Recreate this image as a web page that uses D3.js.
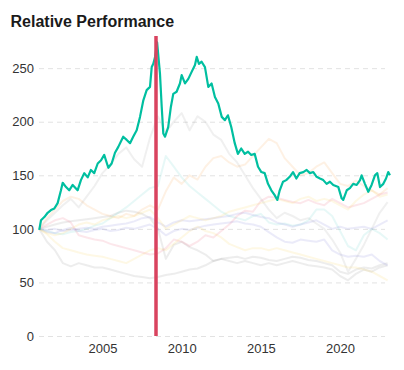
<!DOCTYPE html>
<html>
<head>
<meta charset="utf-8">
<script src="https://cdn.jsdelivr.net/npm/d3@7"></script>
<style>
    body { margin: 0; background: #fff; font-family: "Liberation Sans", Arial, sans-serif; }
</style>
</head>
<body>
<script>
//Data.

//Highlighted series (green), its own dates.
const greenYears = [2001.01, 2001.12, 2001.33, 2001.54, 2001.75, 2001.96, 2002.17, 2002.38, 2002.49, 2002.70, 2002.90,
    2003.12, 2003.43, 2003.64, 2003.85, 2004.07, 2004.27, 2004.48, 2004.70, 2004.91, 2005.11, 2005.37, 2005.58, 2005.79,
    2006.00, 2006.31, 2006.53, 2006.74, 2006.94, 2007.16, 2007.37, 2007.58, 2007.79, 2008.00, 2008.11, 2008.21, 2008.32,
    2008.45, 2008.63, 2008.74, 2008.84, 2008.95, 2009.15, 2009.32, 2009.47, 2009.68, 2009.89, 2010.00, 2010.21, 2010.42,
    2010.63, 2010.84, 2010.95, 2011.09, 2011.26, 2011.47, 2011.68, 2011.89, 2012.10, 2012.31, 2012.53, 2012.73, 2012.92,
    2013.13, 2013.35, 2013.55, 2013.76, 2013.98, 2014.19, 2014.39, 2014.61, 2014.82, 2015.03, 2015.24, 2015.45, 2015.66,
    2015.87, 2016.04, 2016.19, 2016.40, 2016.60, 2016.82, 2017.03, 2017.24, 2017.45, 2017.68, 2017.89, 2018.10, 2018.31,
    2018.52, 2018.73, 2018.94, 2019.15, 2019.36, 2019.57, 2019.89, 2020.10, 2020.20, 2020.42, 2020.62, 2020.83, 2021.05,
    2021.26, 2021.36, 2021.57, 2021.78, 2021.99, 2022.20, 2022.35, 2022.52, 2022.73, 2022.90, 2023.04, 2023.15];
const greenValues = [99, 108, 111, 115, 117.5, 119, 124, 136, 143, 139, 136,
    141, 136, 145.5, 152, 148, 155, 152, 161, 164, 169, 157, 161, 171,
    176.5, 186, 183, 180, 186, 192, 204.5, 220, 229.5, 232.5, 251, 254, 260.5,
    274, 245, 214, 189, 186, 195, 214, 226, 228, 235.7, 243.5, 235.7, 240,
    246.5, 253, 260.5, 254, 256, 251, 232.5, 235.7, 223, 217, 204.5, 201.5, 206,
    195, 180, 170, 175, 170, 172, 169, 170, 158, 153, 152, 142, 136,
    131.5, 127, 136, 144, 145.5, 148.6, 153, 147, 152, 153, 155, 152, 153,
    148.6, 147, 145.5, 142, 144, 141, 139, 128.5, 127, 136, 138, 142, 141,
    145.5, 150, 142, 134.6, 141, 150, 152, 139, 142, 147, 153, 150];

//Background series share a half-year grid.
const halfYears = [2001, 2001.5, 2002, 2002.5, 2003, 2003.5, 2004, 2004.5, 2005, 2005.5, 2006, 2006.5,
    2007, 2007.5, 2008, 2008.5, 2009, 2009.5, 2010, 2010.5, 2011, 2011.5, 2012, 2012.5,
    2013, 2013.5, 2014, 2014.5, 2015, 2015.5, 2016, 2016.5, 2017, 2017.5, 2018, 2018.5,
    2019, 2019.5, 2020, 2020.5, 2021, 2021.5, 2022, 2022.5, 2023];
const grayHigh = [100, 108, 115, 122, 128, 120, 130, 140, 152, 160, 170, 176,
    165, 158, 185, 205, 190, 200, 208, 192, 205, 200, 188, 183,
    170, 162, 150, 138, 128, 118, 110, 115, 112, 108, 110, 105,
    100, 90, 78, 60, 72, 85, 100, 115, 125];
const grayMid = [100, 102, 104, 106, 107, 108, 109, 110, 111, 112, 115, 117,
    116, 114, 110, 100, 72, 85, 88, 83, 80, 76, 70, 72,
    70, 68, 70, 68, 66, 68, 66, 68, 70, 68, 66, 65,
    64, 62, 56, 52, 58, 62, 60, 64, 66];
const grayLow = [100, 88, 80, 68, 65, 68, 66, 64, 64, 62, 60, 58,
    56, 55, 54, 55, 57, 58, 60, 62, 63, 66, 70, 72,
    73, 74, 72, 74, 73, 71, 70, 72, 74, 73, 71, 70,
    68, 66, 60, 58, 62, 64, 63, 66, 68];
const peach = [100, 110, 118, 126, 130, 128, 122, 118, 114, 112, 110, 114,
    112, 118, 122, 118, 135, 148, 142, 150, 146, 158, 166, 168,
    162, 158, 160, 168, 176, 184, 180, 166, 158, 150, 152, 158,
    162, 152, 142, 140, 145, 140, 136, 132, 138];
const cyan = [100, 98, 96, 95, 97, 98, 100, 103, 105, 110, 115, 120,
    126, 132, 138, 140, 168, 158, 148, 140, 134, 128, 122, 116,
    112, 110, 108, 112, 114, 106, 104, 105, 103, 104, 108, 118,
    118, 112, 98, 84, 80, 94, 100, 96, 90];
const pink = [100, 104, 108, 110, 106, 94, 92, 90, 89, 86, 84, 82,
    80, 78, 76, 77, 82, 90, 88, 84, 88, 94, 92, 98,
    104, 112, 117, 116, 126, 130, 129, 127, 125, 124, 127, 124,
    122, 128, 124, 120, 122, 124, 128, 132, 134];
const lavender = [100, 99, 100, 98, 99, 100, 101, 100, 102, 103, 104, 105,
    107, 110, 111, 106, 102, 106, 108, 107, 108, 109, 110, 111,
    112, 114, 115, 113, 111, 110, 106, 104, 102, 104, 106, 108,
    104, 100, 102, 100, 101, 102, 100, 104, 108];
const lavenderLow = [100, 97, 96, 99, 101, 98, 97, 99, 100, 98, 99, 101,
    100, 102, 104, 100, 94, 98, 100, 99, 101, 103, 104, 105,
    106, 107, 105, 104, 102, 97, 92, 88, 87, 90, 89, 88,
    90, 80, 76, 74, 75, 74, 76, 70, 66];
const yellow = [100, 96, 94, 96, 100, 104, 106, 104, 108, 110, 112, 110,
    112, 115, 118, 110, 100, 104, 108, 112, 110, 108, 110, 112,
    116, 118, 120, 122, 124, 126, 128, 126, 124, 128, 130, 126,
    128, 126, 122, 118, 126, 132, 136, 130, 132];
const yellowLow = [100, 95, 88, 82, 80, 78, 76, 75, 74, 72, 70, 68,
    72, 76, 80, 82, 80, 86, 92, 98, 102, 98, 96, 92,
    86, 83, 80, 82, 82, 80, 82, 80, 78, 76, 74, 72,
    70, 68, 66, 64, 64, 62, 60, 56, 52];

const yTicks = [0, 50, 100, 150, 200, 250];
const xTicks = [2005, 2010, 2015, 2020];
const markerYear = 2008.38;

//Constants for the structure of the SVG.
const width = 404;
const height = 370;
const svg = d3.select("body").append("svg").attr("width", width).attr("height", height);

//Title.
svg.append("text")
.attr("x", 10.5)
.attr("y", 26.5)
.attr("fill", "#1a1a1a")
.style("font-size", "16px")
.style("font-weight", "bold")
.text("Relative Performance");

//Scales.
const xScale = d3.scaleLinear().domain([2001, 2023]).range([39.1, 387.6]);
const yScale = d3.scaleLinear().domain([0, 280]).range([336, 36]);

//Y-Axis with dashed gridlines.
const yAxis = d3.axisLeft(yScale).tickValues(yTicks).tickSize(-346).tickPadding(5);
const gy = svg.append("g").attr("transform", "translate(39,0)").call(yAxis);
gy.select(".domain").remove();
gy.selectAll(".tick line").attr("stroke", "#e2e2e2").attr("stroke-dasharray", "5,4");
gy.selectAll(".tick text").attr("fill", "#333").style("font-size", "13px").style("font-family", "Liberation Sans, Arial, sans-serif");

//X-Axis, labels only.
const xAxis = d3.axisBottom(xScale).tickValues(xTicks).tickSize(0).tickPadding(8).tickFormat(d3.format("d"));
const gx = svg.append("g").attr("transform", "translate(0,336)").call(xAxis);
gx.select(".domain").remove();
gx.selectAll(".tick text").attr("fill", "#333").style("font-size", "13px").style("font-family", "Liberation Sans, Arial, sans-serif");

//Faint background lines.
const background = [
    {values: grayHigh, color: "#999999"},
    {values: grayMid, color: "#888888"},
    {values: grayLow, color: "#888888"},
    {values: peach, color: "#f5a04a"},
    {values: cyan, color: "#5bd0c8"},
    {values: pink, color: "#e8607a"},
    {values: lavender, color: "#7a7ad6"},
    {values: lavenderLow, color: "#7a7ad6"},
    {values: yellow, color: "#f5d050"},
    {values: yellowLow, color: "#f5d050"}
];

const line = d3.line()
.x((d) => xScale(d[0]))
.y((d) => yScale(d[1]));

svg.selectAll(".faint")
.data(background)
.enter()
.append("path")
.attr("class", "faint")
.attr("d", (s) => line(halfYears.map((t, i) => [t, s.values[i]])))
.attr("fill", "none")
.attr("stroke", (s) => s.color)
.attr("stroke-opacity", 0.15)
.attr("stroke-width", 2)
.attr("stroke-linejoin", "round");

//Highlighted series.
svg.append("path")
.attr("d", line(greenYears.map((t, i) => [t, greenValues[i]])))
.attr("fill", "none")
.attr("stroke", "#00bfa0")
.attr("stroke-width", 2.2)
.attr("stroke-linejoin", "round");

//Vertical marker line.
svg.append("line")
.attr("x1", xScale(markerYear))
.attr("x2", xScale(markerYear))
.attr("y1", yScale(280))
.attr("y2", yScale(0))
.attr("stroke", "#d9435f")
.attr("stroke-width", 3.5);
</script>
</body>
</html>
